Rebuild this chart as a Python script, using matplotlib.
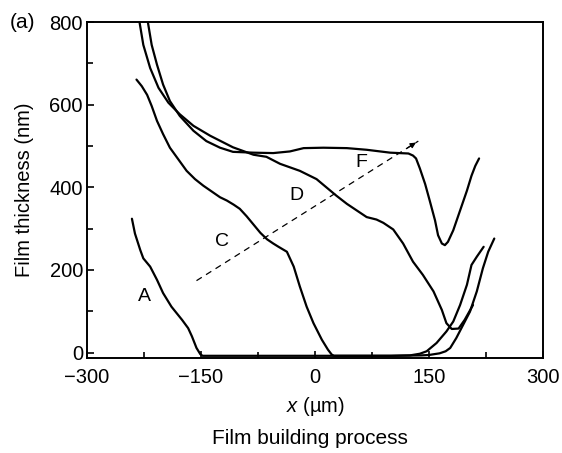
import matplotlib
matplotlib.use('Agg')
import matplotlib.pyplot as plt

plt.rcParams['font.family'] = ['Liberation Sans', 'DejaVu Sans']
plt.rcParams['mathtext.fontset'] = 'custom'
plt.rcParams['mathtext.it'] = 'Liberation Sans:italic'
plt.rcParams['mathtext.rm'] = 'Liberation Sans'
plt.rcParams['font.size'] = 14.5

# curve A (left side + right rising branch)
A_x = [-241, -237, -230, -226, -217, -208, -200, -189, -175, -167, -162, -156, -151, -148,
       -100, -50, 0, 50, 100, 140, 150, 164, 172, 178, 186, 195, 204, 213, 221, 228, 236]
A_y = [324, 288, 248, 228, 208, 176, 144, 111, 79, 59, 39, 11, -4, -8,
       -8, -8, -8, -8, -8, -7, -6, -2, 3, 11, 35, 67, 99, 148, 204, 244, 276]

# curve C
C_x = [-235, -228, -221, -215, -208, -200, -191, -180, -169, -158, -147, -136, -125, -116,
       -107, -99, -90, -81, -72, -63, -55, -48, -37, -28, -20, -11, -2, 9, 17, 22, 25,
       60, 100, 125, 138, 147, 160, 173, 182, 191, 200, 206, 213, 222]
C_y = [661, 645, 624, 597, 561, 529, 496, 468, 440, 420, 404, 390, 376, 368,
       358, 348, 330, 310, 290, 274, 264, 256, 244, 208, 160, 111, 71, 31, 7, -5, -8,
       -8, -8, -7, -3, 3, 23, 51, 75, 115, 164, 212, 232, 256]

# curve D
D_x = [-231, -226, -217, -206, -193, -178, -160, -138, -108, -81, -64, -46, -20, 2, 15, 28,
       42, 55, 68, 81, 90, 103, 116, 129, 142, 156, 167, 173, 180, 189, 197, 208]
D_y = [800, 745, 689, 641, 605, 577, 549, 525, 497, 479, 474, 457, 440, 420, 400, 380,
       360, 344, 328, 322, 314, 298, 264, 220, 188, 148, 103, 71, 57, 58, 79, 115]

# curve F
F_x = [-220, -215, -208, -200, -191, -178, -160, -143, -125, -108, -81, -55, -33, -15, 11,
       42, 68, 99, 123, 129, 133, 138, 145, 151, 158, 162, 167, 171, 175, 182, 191, 200,
       206, 211, 216]
F_y = [800, 745, 697, 649, 609, 573, 537, 512, 496, 486, 484, 483, 487, 495, 496,
       495, 491, 484, 482, 477, 470, 446, 408, 368, 320, 284, 264, 260, 268, 296, 344, 392,
       428, 452, 470]

labels = {'A': (-224, 135), 'C': (-123, 268), 'D': (-24, 380), 'F': (61, 460)}
arrow_start = (-156, 174)
arrow_end = (136, 512)

fig = plt.figure(figsize=(5.62, 4.53), dpi=100)
ax = fig.add_axes([0.155, 0.21, 0.811, 0.741])

for xs, ys in [(A_x, A_y), (C_x, C_y), (D_x, D_y), (F_x, F_y)]:
    ax.plot(xs, ys, color='black', lw=1.6, solid_capstyle='round', solid_joinstyle='round')

for k, (lx, ly) in labels.items():
    ax.text(lx, ly, k, ha='center', va='center', fontsize=14)

# dashed arrow
ax.plot([arrow_start[0], arrow_end[0]], [arrow_start[1], arrow_end[1]],
        color='black', lw=0.9, ls=(0, (5, 4)))
ax.annotate('', xy=arrow_end,
            xytext=(arrow_end[0] - 0.06 * (arrow_end[0] - arrow_start[0]),
                    arrow_end[1] - 0.06 * (arrow_end[1] - arrow_start[1])),
            arrowprops=dict(arrowstyle='-|>', color='black', lw=0.9, mutation_scale=8))

ax.set_xlim(-300, 300)
ax.set_ylim(-13, 800)
ax.set_xticks([-300, -150, 0, 150, 300])
ax.set_xticklabels(['\u2212300', '\u2212150', '0', '150', '300'])
ax.set_xticks([-225, -75, 75, 225], minor=True)
ax.set_yticks([0, 200, 400, 600, 800])
ax.set_yticks([100, 300, 500, 700], minor=True)
ax.tick_params(which='both', direction='in', top=False, right=False, width=1.2)
ax.tick_params(which='major', length=5)
ax.tick_params(which='minor', length=4)
ax.tick_params(axis='x', pad=7)
ax.tick_params(axis='y', pad=3)
for s in ax.spines.values():
    s.set_linewidth(1.4)

ax.set_xlabel('$x$ (\u00b5m)', labelpad=6)
ax.set_ylabel('Film thickness (nm)', labelpad=11)
fig.text(0.552, 0.033, 'Film building process', ha='center', va='center', fontsize=15)
fig.text(0.018, 1 - 22 / 453, '(a)', ha='left', va='center', fontsize=15)

fig.savefig('out.png', dpi=100)
